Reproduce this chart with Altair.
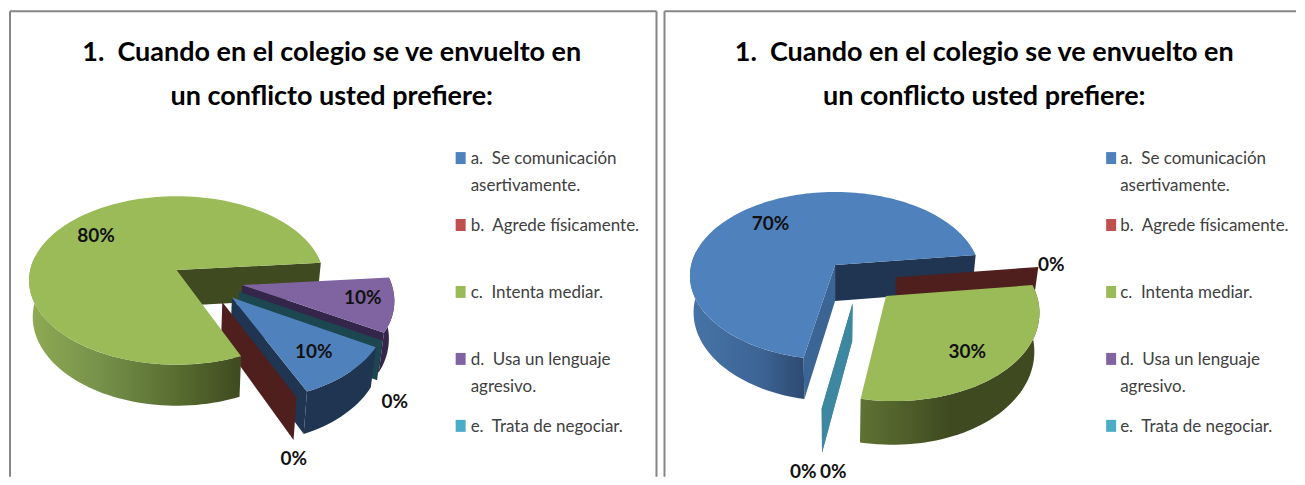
import math
import altair as alt
import pandas as pd

# ---- data
NB = "\u00a0\u00a0"
categories = [f"a.{NB}Se comunicación\nasertivamente.", f"b.{NB}Agrede físicamente.", f"c.{NB}Intenta mediar.",
              f"d.{NB}Usa un lenguaje\nagresivo.", f"e.{NB}Trata de negociar."]
colors = ["#4f81bd", "#c0504d", "#9bbb59", "#8064a2", "#4bacc6"]
title_lines = [f"1.{NB}Cuando en el colegio se ve envuelto en", "un conflicto usted prefiere:"]
left_shares = [10, 0, 80, 10, 0]
right_shares = [70, 0, 30, 0, 0]

FONT = "Lato"
W1, W2, H = 655, 634, 469
LEFT0, RIGHT0 = 8, 663  # page x of each panel's origin
TOP0 = 8

dark_green = "#3f4a20"
navy = "#1f3552"


def grad(*stops):
    return alt.Gradient(gradient="linear", x1=0, x2=1, y1=0, y2=0,
                        stops=[alt.GradientStop(color=c, offset=o) for o, c in stops])


LEFT = dict(
    shares=left_shares, start=31, apex=(176.7, 270), rx=146.5, ry=83, k=0.124, th=36,
    explode=[(.363, .32), (.298, .368), (0, 0), (.438, .178), (.414, .253)],
    faces={0: (None, navy), 1: ("#4f1f1e", None), 2: (None, dark_green),
           3: (None, "#33264a"), 4: ("#1c4650", None)},
    rims={0: navy, 2: grad((0, "#8fab52"), (.35, "#75904a"), (.72, "#566a2e"), (1, dark_green)), 3: "#33264a"},
    order=[(2, "f1"), (3, "rim"), (3, "f1"), (3, "top"), (4, "f0"), (0, "rim"), (0, "f1"), (0, "top"),
           (1, "f0"), (2, "rim"), (2, "top")],
    pct=[(314, 352, 0), (294, 459, 1), (96, 236, 2), (363, 298, 3), (395, 402, 4)],
    title_x=332, legend_sq=456, legend_tx=471,
    frame_x=[2, 649], frame_right=649,
)
RIGHT = dict(
    shares=right_shares, start=101, apex=(835.7, 265), rx=144, ry=82.6, k=0.13, th=36,
    explode=[(0, 0), (.4156, .146), (.3375, .358), (.115, .437), (.115, .437)],
    faces={0: ("#3b6595", navy), 1: ("#4f1f1e", None), 3: ("#3d88a0", None), 4: ("#3d88a0", None)},
    rims={0: grad((0, "#4674a8"), (.6, "#3d6595"), (1, "#2e4a72")),
          2: grad((0, "#5f7333"), (.5, dark_green), (1, dark_green))},
    order=[(0, "f1"), (1, "f0"), (0, "rim"), (0, "f0"), (0, "top"), (3, "f0"), (4, "f0"), (2, "rim"), (2, "top")],
    pct=[(771, 224, 0), (1052, 265, 1), (968, 352, 2), (804, 472, 3), (834, 472, 4)],
    title_x=985, legend_sq=1107, legend_tx=1121,
    frame_x=[2], frame_right=W2,
)
projection = alt.Projection(type="identity", scale=1, translate=[0, 0])


def plane(cfg, x0, u, v, bottom=False):
    """Perspective view of a point on the pie's top (or bottom) disc."""
    ax, ay = cfg["apex"]
    w = 1 - cfg["k"] * v
    rx = cfg["rx"] * (0.975 if bottom else 1)
    drop = cfg["th"] if bottom else 0
    return [ax - x0 + rx * u / w, ay - TOP0 + (cfg["ry"] * v + drop) / w]


def rim_pt(cfg, x0, i, deg, bottom=False):
    ex, ey = cfg["explode"][i]
    t = math.radians(deg)
    return plane(cfg, x0, math.cos(t) + ex, math.sin(t) + ey, bottom)


def polygon(ring):
    return {"type": "Feature", "properties": {},
            "geometry": {"type": "Polygon", "coordinates": [ring + [ring[0]]]}}


def shape(ring, fill):
    return alt.Chart(alt.Data(values=[polygon(ring)])).mark_geoshape(
        fill=fill, strokeWidth=0).project(**projection.to_dict())


def panel(cfg, x0, width):
    total = sum(cfg["shares"])
    spans, a = [], cfg["start"]
    for s in cfg["shares"]:
        spans.append((a, a + 360 * s / total))
        a = spans[-1][1]
    layers = []
    for i, part in cfg["order"]:
        t0, t1 = spans[i]
        ex, ey = cfg["explode"][i]
        if part == "top":
            n = max(2, int((t1 - t0) / 2))
            arc = [rim_pt(cfg, x0, i, t0 + (t1 - t0) * j / n) for j in range(n + 1)]
            layers.append(shape([plane(cfg, x0, ex, ey)] + arc, colors[i]))
        elif part == "rim":
            # only the near half of the rim can be seen
            lo, hi = max(t0, -10), min(t1, 190)
            if lo >= hi:
                lo, hi = max(t0 - 360, -10), min(t1 - 360, 190)
            n = max(2, int((hi - lo) / 2))
            degs = [lo + (hi - lo) * j / n for j in range(n + 1)]
            ring = [rim_pt(cfg, x0, i, d) for d in degs] + [rim_pt(cfg, x0, i, d, True) for d in reversed(degs)]
            layers.append(shape(ring, cfg["rims"][i]))
        else:
            deg = t0 if part == "f0" else t1
            fill = cfg["faces"][i][0 if part == "f0" else 1]
            ring = [plane(cfg, x0, ex, ey), rim_pt(cfg, x0, i, deg),
                    rim_pt(cfg, x0, i, deg, True), plane(cfg, x0, ex, ey, True)]
            layers.append(shape(ring, fill))

    # percentage labels
    pct = pd.DataFrame([{"x": x - x0, "y": y - TOP0, "t": f"{cfg['shares'][i]}%"} for x, y, i in cfg["pct"]])
    layers.append(alt.Chart(pct).mark_text(font=FONT, fontWeight="bold", fontSize=19, color="#111111",
                                            align="center", baseline="middle").encode(
        x=alt.X("x:Q", scale=None, axis=None), y=alt.Y("y:Q", scale=None, axis=None), text="t:N"))

    # title
    tt = pd.DataFrame({"x": [cfg["title_x"] - x0] * 2, "y": [53 - TOP0, 97 - TOP0], "t": title_lines})
    layers.append(alt.Chart(tt).mark_text(font=FONT, fontWeight="bold", fontSize=27, color="#000000",
                                           align="center", baseline="middle").encode(
        x=alt.X("x:Q", scale=None, axis=None), y=alt.Y("y:Q", scale=None, axis=None), text="t:N"))

    # legend
    step = 67
    lg = pd.DataFrame({"cat": categories, "col": colors,
                       "y": [158 - TOP0 + step * i for i in range(len(categories))]})
    lg["x1"], lg["x2"] = cfg["legend_sq"] - x0, cfg["legend_sq"] + 10 - x0
    lg["y1"], lg["y2"] = lg["y"] - 6, lg["y"] + 6
    lg["tx"] = cfg["legend_tx"] - x0
    lg["ty"] = lg["y"] + 1
    layers.append(alt.Chart(lg).mark_rect().encode(
        x=alt.X("x1:Q", scale=None, axis=None), x2="x2:Q",
        y=alt.Y("y1:Q", scale=None, axis=None), y2="y2:Q",
        fill=alt.Fill("col:N", scale=None)))
    layers.append(alt.Chart(lg).mark_text(font=FONT, fontSize=17, color="#404040", align="left",
                                           baseline="middle", lineBreak="\n", lineHeight=27).encode(
        x=alt.X("tx:Q", scale=None, axis=None), y=alt.Y("ty:Q", scale=None, axis=None), text="cat:N"))

    # frame: the bottom edge is cut off by the page
    gray = "#868686"
    rows = [{"x": 2, "x2": cfg["frame_right"], "y": 3, "y2": 3}]
    rows += [{"x": fx, "x2": fx, "y": 3, "y2": H} for fx in cfg["frame_x"]]
    layers.append(alt.Chart(pd.DataFrame(rows)).mark_rule(color=gray, strokeWidth=2).encode(
        x=alt.X("x:Q", scale=None, axis=None), x2="x2:Q",
        y=alt.Y("y:Q", scale=None, axis=None), y2="y2:Q"))
    return alt.layer(*layers).properties(width=width, height=H)


chart = alt.hconcat(panel(LEFT, LEFT0, W1), panel(RIGHT, RIGHT0, W2), spacing=0, padding=0,
                    background="white").configure_view(strokeWidth=0)

chart.save("out.html", embed_options={"renderer": "svg", "actions": False})
